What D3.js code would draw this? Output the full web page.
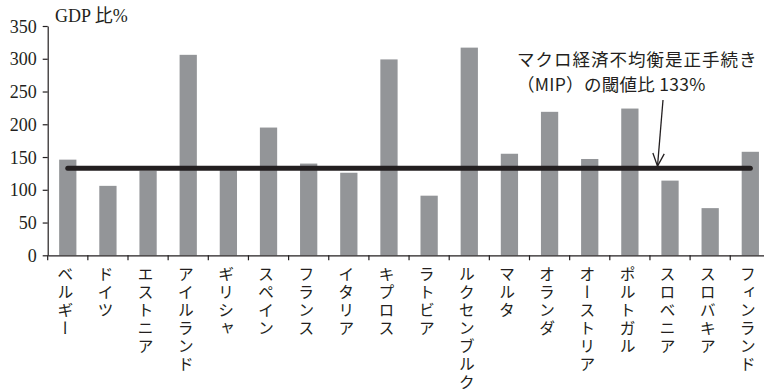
<!DOCTYPE html>
<html>
<head>
<meta charset="utf-8">
<script src="https://cdn.jsdelivr.net/npm/d3@7"></script>
<style>
  html, body { margin: 0; padding: 0; background: #fff; }
  svg { display: block; }
  text { fill: #231f20; }
</style>
</head>
<body>
<svg id="chart" width="764" height="389"></svg>
<script>
// Countries (euro area) and private-sector debt, % of GDP
const countries = ["ベルギー", "ドイツ", "エストニア", "アイルランド", "ギリシャ", "スペイン",
  "フランス", "イタリア", "キプロス", "ラトビア", "ルクセンブルク", "マルタ",
  "オランダ", "オーストリア", "ポルトガル", "スロベニア", "スロバキア", "フィンランド"];
const debtRatio = [146, 106, 129, 306, 130, 195, 140, 126, 299, 91, 317, 155, 219, 147, 224, 114, 72, 158];
const threshold = 133;
const yTicks = [0, 50, 100, 150, 200, 250, 300, 350];
const yTitle = "GDP 比%";
const noteLines = ["マクロ経済不均衡是正手続き", "（MIP）の閾値比 133%"];

const serif = "Liberation Serif, DejaVu Serif, Noto Sans CJK JP, serif";
const jp = "Noto Sans CJK JP, sans-serif";
const ink = "#231f20";

const svg = d3.select("#chart");
const plotLeft = 47.7, plotRight = 770.4, plotTop = 26, plotBottom = 255.3;

const x = d3.scaleBand().domain(countries).range([plotLeft, plotRight]).paddingInner(0).paddingOuter(0);
const y = d3.scaleLinear().domain([0, 350]).range([plotBottom, plotTop]);
const step = x.step();
const barW = step * 0.43;

// bars
svg.append("g").selectAll("rect").data(countries).join("rect")
  .attr("x", (d) => x(d) + step / 2 - barW / 2)
  .attr("y", (d, i) => y(debtRatio[i]))
  .attr("width", barW)
  .attr("height", (d, i) => y(0) - y(debtRatio[i]))
  .attr("fill", "#939598");

// y axis
const yAxis = svg.append("g").attr("transform", `translate(${plotLeft},0)`)
  .call(d3.axisLeft(y).tickValues(yTicks).tickSize(5).tickSizeOuter(0).tickPadding(6));
yAxis.attr("font-family", serif).attr("font-size", 18);
yAxis.select(".domain").attr("stroke", ink).attr("stroke-width", 1.2);
yAxis.selectAll(".tick line").attr("stroke", ink).attr("stroke-width", 1.2);
yAxis.selectAll(".tick text").attr("fill", ink).attr("dy", "0.34em");

// x axis: ticks at band boundaries, labels written vertically
const xAxis = svg.append("g").attr("transform", `translate(0,${plotBottom})`)
  .call(d3.axisBottom(x).tickSize(0).tickSizeOuter(0).tickFormat(""));
xAxis.select(".domain").attr("stroke", ink).attr("stroke-width", 1.2);
xAxis.selectAll(".tick").remove();
xAxis.selectAll("line.sep").data(countries).join("line")
  .attr("class", "sep")
  .attr("x1", (d) => x(d)).attr("x2", (d) => x(d))
  .attr("y1", 0).attr("y2", 5)
  .attr("stroke", ink).attr("stroke-width", 1.2);

svg.append("g").selectAll("text").data(countries).join("text")
  .attr("x", (d) => x(d) + step / 2 - 2.5)
  .attr("y", plotBottom + 11)
  .attr("font-family", jp)
  .attr("font-size", 16)
  .attr("letter-spacing", 2)
  .style("writing-mode", "vertical-rl")
  .style("text-orientation", "upright")
  .text((d) => d);

// threshold line
const first = countries[0], last = countries[countries.length - 1];
svg.append("line")
  .attr("x1", x(first) + step / 2).attr("x2", x(last) + step / 2)
  .attr("y1", y(threshold)).attr("y2", y(threshold))
  .attr("stroke", ink).attr("stroke-width", 5).attr("stroke-linecap", "round");

// axis title
svg.append("text").attr("x", 55).attr("y", 22)
  .attr("font-family", serif).attr("font-size", 18).text(yTitle);

// annotation
svg.append("g").selectAll("text").data(noteLines).join("text")
  .attr("x", 517).attr("y", (d, i) => 66 + i * 25)
  .attr("font-family", jp).attr("font-size", 17.5)
  .attr("letter-spacing", (d, i) => (i === 0 ? 1 : 0.3))
  .text((d) => d);

// arrow pointing at the threshold line
const ax1 = 663, ay1 = 100, ax2 = 657.5, ay2 = y(threshold) - 2;
svg.append("line").attr("x1", ax1).attr("y1", ay1).attr("x2", ax2).attr("y2", ay2)
  .attr("stroke", ink).attr("stroke-width", 1.3);
const ang = Math.atan2(ay2 - ay1, ax2 - ax1);
const headLen = 14, spread = 0.42;
svg.append("path")
  .attr("d", `M${ax2 - headLen * Math.cos(ang - spread)},${ay2 - headLen * Math.sin(ang - spread)} L${ax2},${ay2} L${ax2 - headLen * Math.cos(ang + spread)},${ay2 - headLen * Math.sin(ang + spread)}`)
  .attr("fill", "none").attr("stroke", ink).attr("stroke-width", 1.3);
</script>
</body>
</html>
